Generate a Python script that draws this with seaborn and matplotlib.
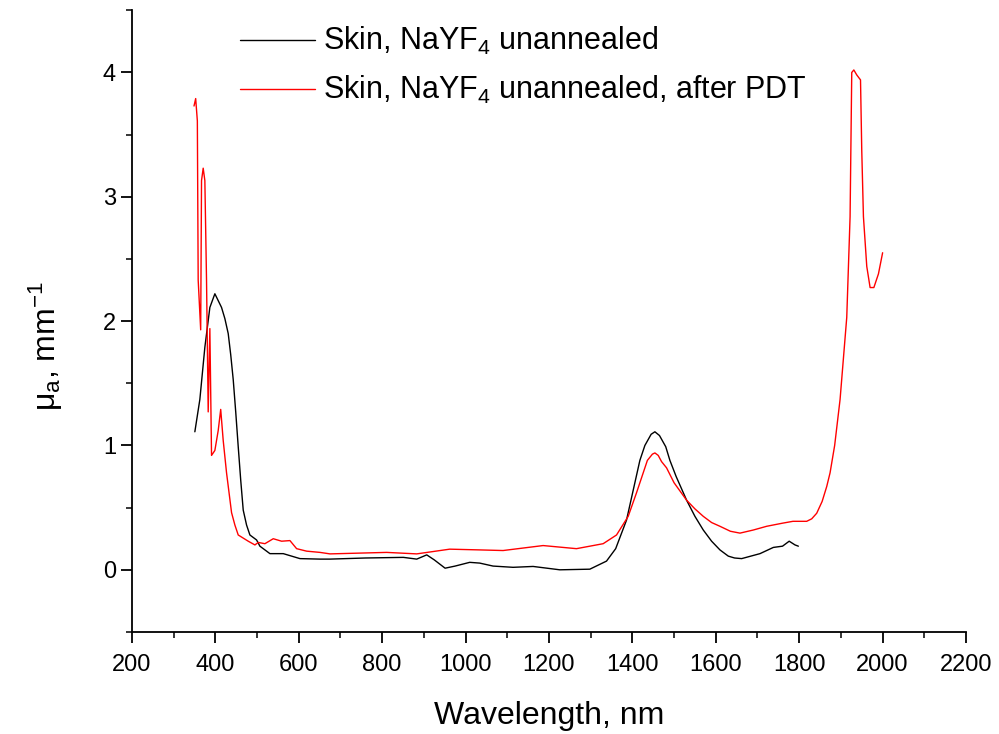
import numpy as np
import pandas as pd
import matplotlib
matplotlib.use("Agg")
import matplotlib.pyplot as plt
from matplotlib.ticker import MultipleLocator
import seaborn as sns

label1 = "Skin, NaYF$_4$ unannealed"
label2 = "Skin, NaYF$_4$ unannealed, after PDT"

wl1 = [351, 363, 375, 387, 399, 415, 423, 431, 437, 443, 449, 455, 461, 467, 475, 483, 499, 507,
       519, 531, 563, 603, 651, 675, 760, 851, 883, 907, 925, 951, 975, 1010, 1034, 1066, 1114,
       1162, 1226, 1298, 1338, 1360, 1386, 1418, 1430, 1445, 1454, 1465, 1480, 1490, 1505, 1530,
       1550, 1570, 1590, 1610, 1630, 1645, 1662, 1706, 1738, 1760, 1776, 1790, 1798]
mu1 = [1.11, 1.37, 1.79, 2.11, 2.22, 2.11, 2.02, 1.90, 1.73, 1.53, 1.27, 0.99, 0.72, 0.48, 0.36,
       0.28, 0.24, 0.19, 0.16, 0.13, 0.13, 0.09, 0.086, 0.086, 0.095, 0.10, 0.086, 0.12, 0.08,
       0.013, 0.03, 0.06, 0.054, 0.03, 0.02, 0.027, 0.0, 0.005, 0.07, 0.17, 0.40, 0.88, 1.00,
       1.09, 1.11, 1.08, 0.99, 0.88, 0.75, 0.56, 0.43, 0.32, 0.23, 0.16, 0.11, 0.095, 0.09, 0.13,
       0.18, 0.19, 0.23, 0.20, 0.19]

wl2 = [349, 353, 357, 359, 365, 367, 371, 375, 379, 383, 387, 391, 399, 407, 413, 419, 427, 433,
       439, 447, 455, 479, 495, 503, 519, 539, 559, 579, 595, 619, 651, 675, 811, 883, 962, 1034,
       1090, 1186, 1266, 1330, 1362, 1390, 1410, 1426, 1436, 1448, 1454, 1462, 1470, 1482, 1500,
       1530, 1550, 1570, 1590, 1610, 1635, 1658, 1690, 1722, 1760, 1785, 1800, 1818, 1830, 1842,
       1855, 1866, 1874, 1885, 1898, 1914, 1922, 1926, 1931, 1938, 1947, 1950, 1954, 1962, 1970,
       1979, 1990, 2000]
mu2 = [3.73, 3.79, 3.61, 2.33, 1.93, 3.13, 3.23, 3.13, 2.33, 1.27, 1.94, 0.92, 0.96, 1.12, 1.29,
       1.04, 0.78, 0.62, 0.46, 0.36, 0.28, 0.23, 0.20, 0.22, 0.21, 0.25, 0.23, 0.235, 0.17, 0.15,
       0.14, 0.128, 0.14, 0.128, 0.166, 0.16, 0.155, 0.195, 0.17, 0.21, 0.28, 0.43, 0.62, 0.78,
       0.88, 0.93, 0.94, 0.92, 0.87, 0.82, 0.70, 0.56, 0.49, 0.43, 0.38, 0.35, 0.31, 0.295, 0.32,
       0.35, 0.375, 0.39, 0.39, 0.39, 0.41, 0.455, 0.55, 0.67, 0.78, 1.0, 1.37, 2.03, 2.84, 4.0,
       4.02, 3.98, 3.94, 3.37, 2.84, 2.44, 2.27, 2.27, 2.38, 2.55]

df = pd.concat([
    pd.DataFrame({"wl": wl1, "mu": mu1, "series": label1}),
    pd.DataFrame({"wl": wl2, "mu": mu2, "series": label2}),
], ignore_index=True)

sns.set_style("ticks")
plt.rcParams["font.family"] = ["Liberation Sans", "DejaVu Sans"]
plt.rcParams["mathtext.fontset"] = "custom"
plt.rcParams["mathtext.rm"] = "Liberation Sans"
plt.rcParams["mathtext.it"] = "Liberation Sans"
plt.rcParams["mathtext.default"] = "regular"
plt.rcParams["text.color"] = "black"
plt.rcParams["axes.labelcolor"] = "black"

fig = plt.figure(figsize=(9.99, 7.34), dpi=100)
ax = fig.add_axes([0.132, 0.139, 0.835, 0.847])

sns.lineplot(data=df, x="wl", y="mu", hue="series", palette=["black", "red"],
             sort=False, estimator=None, linewidth=1.0, ax=ax)

ax.set_xlim(200, 2200)
ax.set_ylim(-0.5, 4.5)
ax.xaxis.set_major_locator(MultipleLocator(200))
ax.xaxis.set_minor_locator(MultipleLocator(100))
ax.set_yticks([0, 1, 2, 3, 4])
ax.yaxis.set_minor_locator(MultipleLocator(0.5))
ax.tick_params(axis="both", which="major", direction="out", length=8, width=1.3,
               labelsize=17, colors="black")
ax.tick_params(axis="x", which="major", pad=8)
ax.tick_params(axis="both", which="minor", direction="out", length=4, width=1.3)
for s in ["top", "right"]:
    ax.spines[s].set_visible(False)
for s in ["left", "bottom"]:
    ax.spines[s].set_linewidth(1.3)
    ax.spines[s].set_color("black")

ax.set_xlabel("Wavelength, nm", fontsize=23, labelpad=18)
ax.set_ylabel("$\\mu_a$, mm$^{-1}$", fontsize=23)
ax.yaxis.set_label_coords(-0.08, 0.46)

ax.legend(loc="upper left", bbox_to_anchor=(0.097, 1.02), frameon=False, fontsize=22,
          handlelength=2.45, handletextpad=0.25, labelspacing=0.55, title=None)

fig.savefig("out.png", dpi=100)
